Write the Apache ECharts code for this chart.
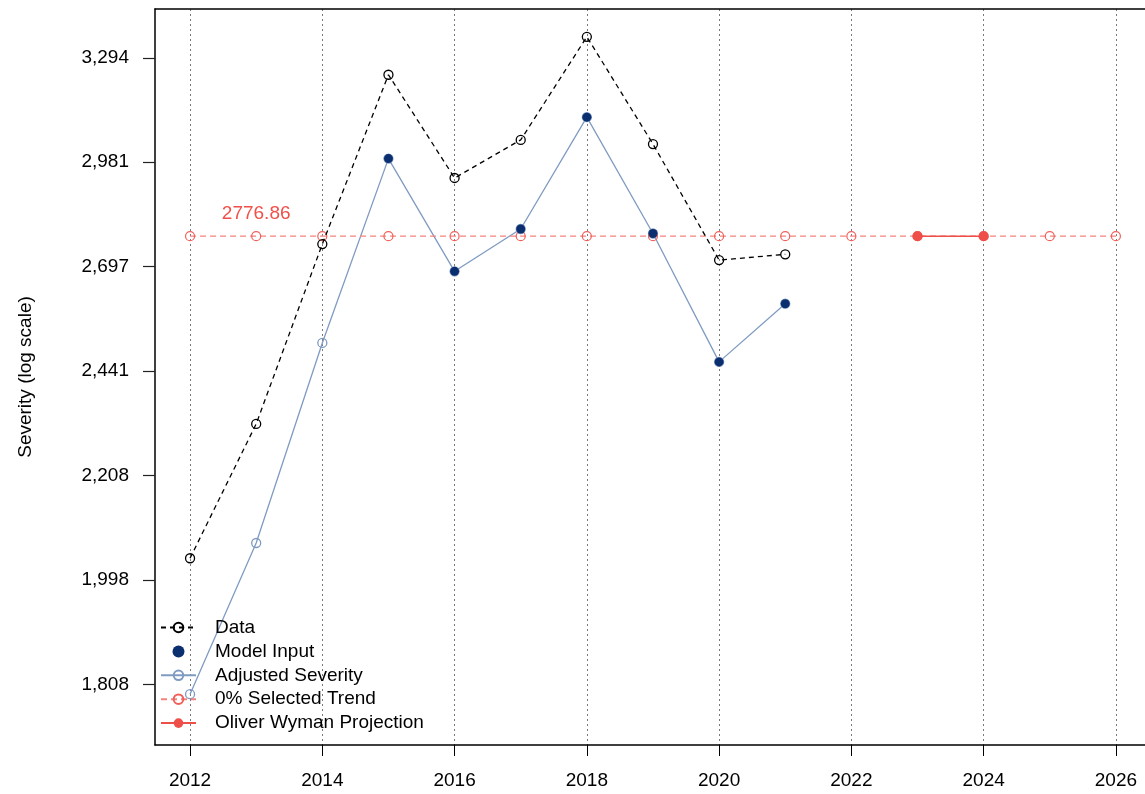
<!DOCTYPE html>
<html>
<head>
<meta charset="utf-8">
<script src="https://cdn.jsdelivr.net/npm/echarts@6/dist/echarts.min.js"></script>
<style>
  html, body { margin: 0; padding: 0; background: #fff; }
  #chart { width: 1145px; height: 794px; }
</style>
</head>
<body>
<div id="chart"></div>
<script>
// Accident years and observed / adjusted severities
const years = [2012, 2013, 2014, 2015, 2016, 2017, 2018, 2019, 2020, 2021];
const dataSeverity = [2040, 2320, 2756, 3241, 2936, 3045, 3361, 3033, 2714, 2729];
const adjustedSeverity = [1791, 2070, 2507, 2991, 2685, 2796, 3112, 2784, 2462, 2603];
// Years whose adjusted severity feeds the model
const modelInputYears = [2015, 2016, 2017, 2018, 2019, 2020, 2021];

// Selected trend (0%) and projection
const trendValue = 2776.86;
const trendYears = [2012, 2013, 2014, 2015, 2016, 2017, 2018, 2019, 2020, 2021, 2022, 2023, 2024, 2025, 2026];
const projectionYears = [2023, 2024];

// Axis ticks
const xTicks = [2012, 2014, 2016, 2018, 2020, 2022, 2024, 2026];
const yTicks = [1808, 1998, 2208, 2441, 2697, 2981, 3294];

const FONT = '"Liberation Sans", Arial, sans-serif';
const CLEAR = 'rgba(255,255,255,0)';

const pairs = (xs, ys) => xs.map((x, i) => [x, ys[i]]);
const modelInput = modelInputYears.map(y => [y, adjustedSeverity[years.indexOf(y)]]);
const trendData = trendYears.map(y => [y, trendValue]);
const projectionData = projectionYears.map(y => [y, trendValue]);

const chart = echarts.init(document.getElementById('chart'), null, { renderer: 'canvas' });

chart.setOption({
  animation: false,
  backgroundColor: '#ffffff',
  textStyle: { fontFamily: FONT },
  grid: { left: 155, right: 0, top: 9, bottom: 49, containLabel: false },
  xAxis: [{
    type: 'value',
    min: 2011.47,
    max: 2026.44,
    axisLine: { show: true, onZero: false, lineStyle: { color: '#000', width: 1.5 } },
    axisTick: { show: true, length: 11, customValues: xTicks, lineStyle: { color: '#000', width: 1 } },
    axisLabel: {
      customValues: xTicks, margin: 26,
      color: '#000', fontSize: 19, fontFamily: FONT,
      formatter: v => String(v)
    },
    splitLine: { show: true, lineStyle: { color: '#7a7a7a', type: [2, 3], width: 1 } }
  }, {
    type: 'value',
    position: 'top',
    min: 2011.47,
    max: 2026.44,
    axisLine: { show: true, onZero: false, lineStyle: { color: '#000', width: 1.5 } },
    axisTick: { show: false },
    axisLabel: { show: false },
    splitLine: { show: false }
  }],
  yAxis: {
    type: 'log',
    logBase: Math.E,
    min: Math.exp(7.4419),
    max: Math.exp(8.1466),
    name: 'Severity (log scale)',
    nameLocation: 'middle',
    nameGap: 120,
    nameRotate: 90,
    nameTextStyle: { color: '#000', fontSize: 19, fontFamily: FONT },
    axisLine: { show: true, onZero: false, lineStyle: { color: '#000', width: 1.5 } },
    axisTick: { show: true, length: 12, customValues: yTicks, lineStyle: { color: '#222', width: 1.2 } },
    axisLabel: {
      customValues: yTicks, margin: 26,
      color: '#000', fontSize: 19, fontFamily: FONT,
      formatter: v => Math.round(v).toLocaleString('en-US')
    },
    splitLine: { show: false }
  },
  legend: {
    orient: 'vertical',
    left: 155,
    top: 613,
    itemWidth: 35,
    itemHeight: 12,
    itemGap: 4.9,
    textStyle: { color: '#000', fontSize: 19, fontFamily: FONT, lineHeight: 19, padding: [0, 0, 0, 14] },
    data: ['Data', 'Model Input', 'Adjusted Severity', '0% Selected Trend', 'Oliver Wyman Projection']
  },
  series: [
    {
      name: 'Data',
      type: 'line',
      data: pairs(years, dataSeverity),
      symbol: 'circle',
      symbolSize: 9,
      showAllSymbol: true,
      lineStyle: { color: '#000', width: 1.3, type: [5, 4] },
      itemStyle: { color: CLEAR, borderColor: '#000', borderWidth: 1.3 },
      z: 4
    },
    {
      name: 'Adjusted Severity',
      type: 'line',
      data: pairs(years, adjustedSeverity),
      symbol: 'circle',
      symbolSize: 9,
      lineStyle: { color: '#7f9bc2', width: 1.3 },
      itemStyle: { color: CLEAR, borderColor: '#7f9bc2', borderWidth: 1.3 },
      z: 3
    },
    {
      name: 'Model Input',
      type: 'scatter',
      data: modelInput,
      symbol: 'circle',
      symbolSize: 9,
      itemStyle: { color: '#0b2f6e', opacity: 1 },
      z: 5
    },
    {
      name: '0% Selected Trend',
      type: 'line',
      data: trendData,
      symbol: 'circle',
      symbolSize: 9,
      lineStyle: { color: '#f4837c', width: 1.3, type: [6, 4] },
      itemStyle: { color: CLEAR, borderColor: '#f0605a', borderWidth: 1.2 },
      label: {
        show: true,
        formatter: p => (p.dataIndex === 1 ? trendValue.toFixed(2) : ''),
        position: 'top',
        distance: 8,
        color: '#f0504a',
        fontSize: 19,
        fontFamily: FONT
      },
      z: 3
    },
    {
      name: 'Oliver Wyman Projection',
      type: 'line',
      data: projectionData,
      symbol: 'circle',
      symbolSize: 10,
      lineStyle: { color: '#ee4f48', width: 1.6 },
      itemStyle: { color: '#ee4f48' },
      z: 6
    }
  ]
});
</script>
</body>
</html>
